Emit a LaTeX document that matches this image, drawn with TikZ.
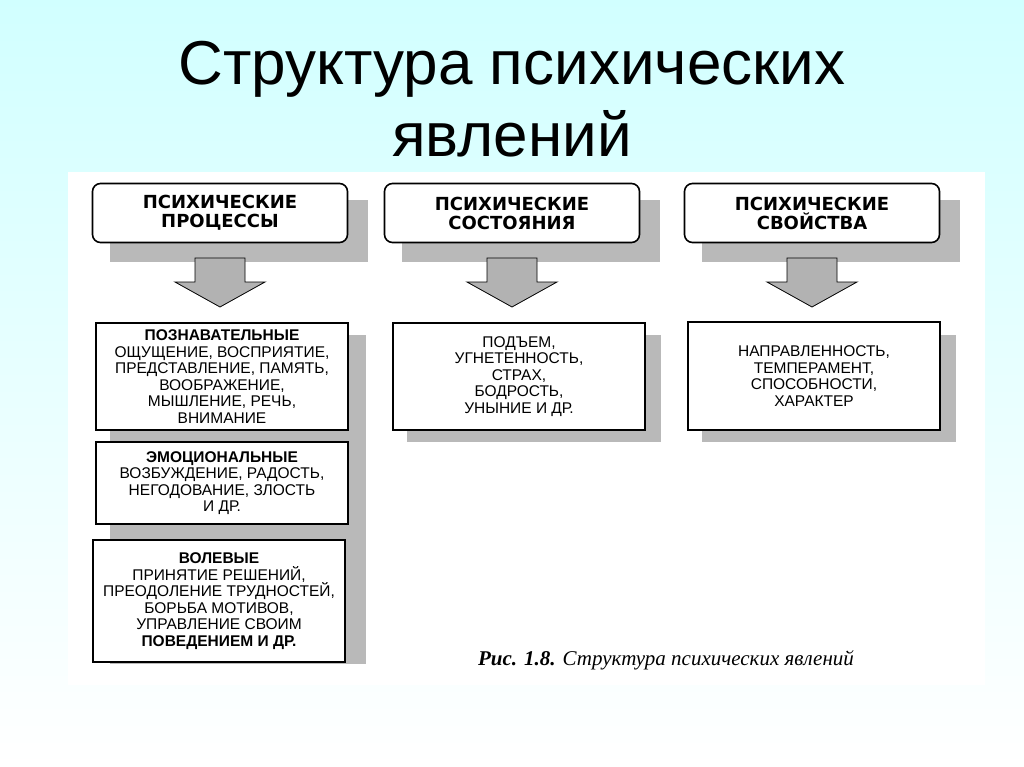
\documentclass[tikz,border=0pt]{standalone}
\usepackage{fontspec}
\setmainfont{Liberation Sans}
\newfontfamily\capfont{Liberation Serif}
\newfontfamily\headfont{DejaVu Sans}
\usetikzlibrary{positioning}

\begin{document}
\begin{tikzpicture}[
  x=1pt, y=-1pt,
  head/.style={draw, line width=1.6pt, rounded corners=8pt, fill=white, minimum width=255pt, minimum height=59pt, align=center, font=\headfont\bfseries\fontsize{18}{19}\selectfont},
  cell/.style={draw, line width=1.4pt, fill=white, minimum width=252pt, align=center, font=\fontsize{15.5}{16.5}\selectfont},
  shade/.style={fill=gray!55},
  bigarrow/.style={fill=gray!60, draw=black, line width=0.8pt},
]
\useasboundingbox (0,0) rectangle (1024,767);
\shade[top color=cyan!18, bottom color=white] (0,0) rectangle (1024,767);
\fill[white] (68,172) rectangle (985,685);

% Title
\node[font=\fontsize{62}{72}\selectfont, align=center] (title) at (512,99) {Структура психических\\явлений};

% Header boxes with shadows
\foreach \cx/\nm in {220/procHead, 512/stateHead, 812/propHead} {
  \fill[shade] (\cx-110,200) rectangle (\cx+148,262);
  \draw[bigarrow] (\cx-25,258) -- (\cx+25,258) -- (\cx+25,282) -- (\cx+45,282)
    -- (\cx,307) -- (\cx-45,282) -- (\cx-25,282) -- cycle;
}
\node[head] (procHead) at (220,213) {ПСИХИЧЕСКИЕ\\ПРОЦЕССЫ};
\node[head] (stateHead) at (512,213) {ПСИХИЧЕСКИЕ\\СОСТОЯНИЯ};
\node[head] (propHead) at (812,213) {ПСИХИЧЕСКИЕ\\СВОЙСТВА};

% Shadows of content boxes
\fill[shade] (110,335) rectangle (366,664);
\fill[shade] (407,335) rectangle (661,442);
\fill[shade] (702,335) rectangle (956,442);

% Content boxes
\node[cell, minimum height=107pt] (cogn) at (222,376.5) {\textbf{ПОЗНАВАТЕЛЬНЫЕ}\\ОЩУЩЕНИЕ, ВОСПРИЯТИЕ,\\ПРЕДСТАВЛЕНИЕ, ПАМЯТЬ,\\ВООБРАЖЕНИЕ,\\МЫШЛЕНИЕ, РЕЧЬ,\\ВНИМАНИЕ};
\node[cell, minimum height=82pt] (emot) at (222,483) {\textbf{ЭМОЦИОНАЛЬНЫЕ}\\ВОЗБУЖДЕНИЕ, РАДОСТЬ,\\НЕГОДОВАНИЕ, ЗЛОСТЬ\\И ДР.};
\node[cell, minimum height=122pt] (will) at (219,601) {\textbf{ВОЛЕВЫЕ}\\ПРИНЯТИЕ РЕШЕНИЙ,\\ПРЕОДОЛЕНИЕ ТРУДНОСТЕЙ,\\БОРЬБА МОТИВОВ,\\УПРАВЛЕНИЕ СВОИМ\\\textbf{ПОВЕДЕНИЕМ И ДР.}};
\node[cell, minimum height=107pt] (states) at (519,376.5) {ПОДЪЕМ,\\УГНЕТЕННОСТЬ,\\СТРАХ,\\БОДРОСТЬ,\\УНЫНИЕ И ДР.};
\node[cell, minimum height=108pt] (props) at (814,376) {НАПРАВЛЕННОСТЬ,\\ТЕМПЕРАМЕНТ,\\СПОСОБНОСТИ,\\ХАРАКТЕР};

% Caption
\node[font=\capfont\itshape\fontsize{21}{21}\selectfont] (caption) at (666,660) {\textbf{Рис. 1.8.} Структура психических явлений};
\end{tikzpicture}
\end{document}
